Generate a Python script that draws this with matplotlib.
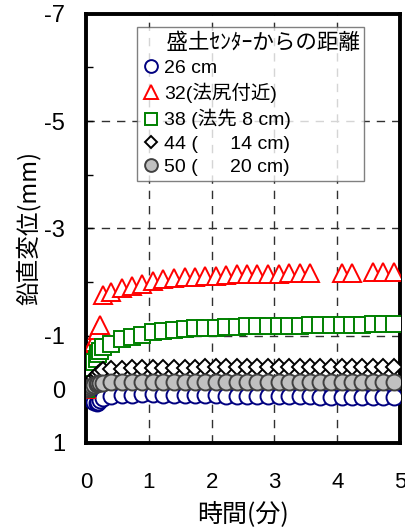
import numpy as np
import matplotlib
matplotlib.use("Agg")
import matplotlib.pyplot as plt

plt.rcParams['font.family'] = ['Liberation Sans', 'Noto Sans CJK JP', 'DejaVu Sans']

# time (min)
t = [0, 0.03, 0.07, 0.1, 0.13, 0.17, 0.2, 0.23, 0.28,
     0.4, 0.57, 0.73, 0.9, 1.07, 1.23, 1.4, 1.57, 1.73, 1.9, 2.07, 2.23,
     2.4, 2.57, 2.73, 2.9, 3.07, 3.23, 3.4, 3.57, 3.73, 3.9, 4.07, 4.23,
     4.4, 4.57, 4.73, 4.9]

d26 = [0.0, 0.08, 0.15, 0.2, 0.24, 0.25, 0.24, 0.2, 0.17,
       0.13, 0.11, 0.1, 0.09, 0.09, 0.1, 0.1, 0.1, 0.11, 0.11, 0.11, 0.12,
       0.12, 0.12, 0.12, 0.13, 0.13, 0.13, 0.13, 0.13, 0.14, 0.14, 0.14, 0.14,
       0.14, 0.14, 0.15, 0.15]
d32 = [0.0, -0.2, -0.45, -0.7, -0.88, -1.0, -1.1, -1.2, -1.75,
       -1.82, -1.88, -1.93, -1.97, -2.02, -2.05, -2.07, -2.09, -2.1, -2.12, -2.12, -2.13,
       -2.14, -2.14, -2.15, -2.15, -2.15, -2.16, -2.16, -2.16, np.nan, np.nan, -2.17, -2.17,
       np.nan, -2.18, -2.18, -2.18]
d38 = [0.0, -0.15, -0.3, -0.4, -0.5, -0.56, -0.65, -0.72, -0.78,
       -0.85, -0.93, -0.98, -1.02, -1.06, -1.09, -1.11, -1.13, -1.14, -1.15, -1.15, -1.16,
       -1.16, -1.17, -1.17, -1.17, -1.18, -1.18, -1.18, -1.19, -1.19, -1.19, -1.2, -1.2,
       -1.2, -1.21, -1.21, -1.22]
d44 = [0.0, -0.05, -0.1, -0.15, -0.2, -0.25, -0.28, -0.32, -0.35,
       -0.37, -0.38, -0.39, -0.39, -0.4, -0.4, -0.4, -0.4, -0.4, -0.41, -0.41, -0.41,
       -0.41, -0.41, -0.41, -0.41, -0.41, -0.41, -0.41, -0.41, -0.41, -0.41, -0.41, -0.41,
       -0.41, -0.41, -0.41, -0.41]
d50 = [0.0, -0.02, -0.04, -0.06, -0.08, -0.1, -0.11, -0.12, -0.12,
       -0.13, -0.13, -0.13, -0.13, -0.13, -0.13, -0.13, -0.13, -0.13, -0.13, -0.13, -0.13,
       -0.13, -0.13, -0.13, -0.13, -0.13, -0.13, -0.13, -0.13, -0.13, -0.13, -0.13, -0.13,
       -0.13, -0.13, -0.13, -0.13]

labels = ['26 cm', '32(法尻付近)', '38 (法先 8 cm)', '44 (      14 cm)', '50 (      20 cm)']
legend_title = '盛土ｾﾝﾀｰからの距離'
ytick_vals = [-7, -6, -5, -4, -3, -2, -1, 0, 1]
ytick_labels = ['-7', '', '-5', '', '-3', '', '-1', '0', '1']
xtick_vals = [0, 1, 2, 3, 4, 5]

fig = plt.figure(figsize=(4.05, 5.31), dpi=100)
ax = fig.add_axes([0.212, 0.166, 0.776, 0.808])

ms = 11.5
ax.plot(t, d26, ls='none', marker='o', ms=ms, mfc='white', mec='#000080', mew=1.4, label=labels[0], zorder=3)
ax.plot(t, d32, ls='none', marker='^', ms=ms + 1.5, mfc='white', mec='#ff0000', mew=1.4, label=labels[1], zorder=3)
ax.plot(t, d38, ls='none', marker='s', ms=ms - 0.5, mfc='white', mec='#008000', mew=1.4, label=labels[2], zorder=3)
ax.plot(t, d44, ls='none', marker='D', ms=ms - 3.5, mfc='white', mec='black', mew=1.4, label=labels[3], zorder=3)
ax.plot(t, d50, ls='none', marker='o', ms=ms, mfc='#c0c0c0', mec='#404040', mew=1.4, label=labels[4], zorder=4)

ax.set_xlim(0, 5)
ax.set_ylim(1, -7)
ax.set_xticks(xtick_vals)
ax.set_yticks(ytick_vals)
ax.set_yticklabels(ytick_labels)
ax.tick_params(axis='y', direction='in', length=5, width=1, labelsize=17, pad=15)
ax.tick_params(axis='x', direction='in', length=0, labelsize=16, pad=21)

for x in [1, 2, 3, 4]:
    ax.axvline(x, color='#303030', lw=1, ls=(0, (6, 5)), zorder=1)
for y in [-5, -3, -1]:
    ax.axhline(y, color='#303030', lw=1, ls=(0, (6, 5)), zorder=1)

for s in ax.spines.values():
    s.set_linewidth(2.8)

ax.set_xlabel('時間(分)', fontsize=18, family=['Noto Sans CJK JP', 'DejaVu Sans'], labelpad=6)
ax.set_ylabel('鉛直変位(mm)', fontsize=17, family=['Noto Sans CJK JP', 'DejaVu Sans'], labelpad=2)

leg = ax.legend(loc='upper left', bbox_to_anchor=(0.162, 0.97), title='     ' + legend_title,
                fontsize=14, title_fontsize=15.5, frameon=True, fancybox=False,
                handletextpad=0.15, handlelength=1.0, borderpad=0.25, labelspacing=0.3,
                borderaxespad=0, markerscale=0.8)
leg.get_frame().set_edgecolor('#606060')
leg.get_frame().set_linewidth(1.0)
leg.get_title().set_family(['Noto Sans CJK JP', 'DejaVu Sans'])
leg._legend_box.align = 'left'
for txt in leg.get_texts():
    txt.set_family(['Liberation Sans', 'Noto Sans CJK JP', 'DejaVu Sans'])

fig.savefig('out.png', dpi=100)
